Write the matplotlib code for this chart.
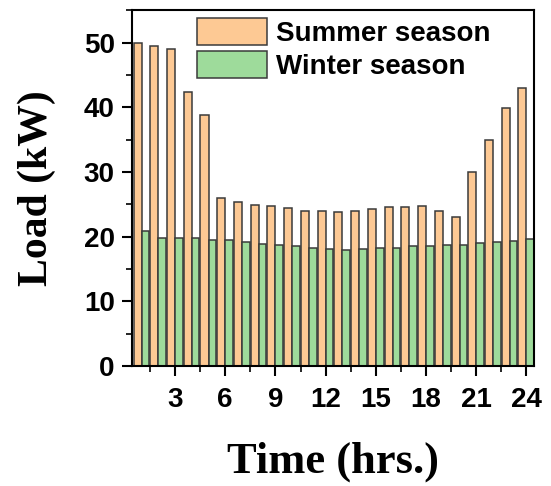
import matplotlib
matplotlib.use('Agg')
import matplotlib.pyplot as plt
import numpy as np
from matplotlib.ticker import MultipleLocator

hours = np.arange(1, 25)
summer_load = [50.0, 49.4, 49.0, 42.3, 38.8, 26.0, 25.4, 24.9, 24.8, 24.4,
               24.0, 24.0, 23.8, 24.0, 24.2, 24.5, 24.6, 24.8, 24.0, 23.0,
               30.0, 35.0, 39.9, 42.9]
winter_load = [20.8, 19.8, 19.8, 19.8, 19.5, 19.4, 19.2, 18.9, 18.7, 18.5,
               18.3, 18.1, 17.9, 18.1, 18.3, 18.3, 18.5, 18.5, 18.7, 18.7,
               19.0, 19.1, 19.3, 19.6]
x_ticks = [3, 6, 9, 12, 15, 18, 21, 24]

SUMMER_COLOR = '#fdc994'
WINTER_COLOR = '#9edb9b'
EDGE = '#3a3a3a'

fig = plt.figure(figsize=(5.51, 4.86), dpi=100)
ax = fig.add_axes([0.2396, 0.247, 0.7296, 0.732])

ax.bar(hours, summer_load, width=-0.48, align='edge', color=SUMMER_COLOR,
       edgecolor=EDGE, linewidth=1.1, label='Summer season')
ax.bar(hours, winter_load, width=0.46, align='edge', color=WINTER_COLOR,
       edgecolor=EDGE, linewidth=1.1, label='Winter season')

ax.set_xlim(0.43, 24.45)
ax.set_ylim(0, 55)
ax.set_xticks(x_ticks)
ax.xaxis.set_minor_locator(MultipleLocator(1.5))
ax.yaxis.set_major_locator(MultipleLocator(10))
ax.yaxis.set_minor_locator(MultipleLocator(5))
ax.tick_params(which='major', direction='out', length=7.5, width=1.5,
               labelsize=20)
ax.tick_params(axis='y', which='major', pad=5)
ax.tick_params(axis='x', which='major', pad=8)
ax.tick_params(which='minor', direction='out', length=4.5, width=1.2)
for lbl in ax.get_xticklabels() + ax.get_yticklabels():
    lbl.set_fontfamily('Liberation Sans')
    lbl.set_fontweight('bold')
for s in ax.spines.values():
    s.set_linewidth(1.5)

ax.set_xlabel('Time (hrs.)', fontfamily='Liberation Serif',
              fontweight='bold', fontsize=32, labelpad=20)
ax.set_ylabel('Load (kW)', fontfamily='Liberation Serif',
              fontweight='bold', fontsize=30, labelpad=20)

leg = ax.legend(loc='upper left', bbox_to_anchor=(0.162, 0.978),
                frameon=False, borderpad=0, borderaxespad=0,
                handlelength=2.5, handleheight=1.1, labelspacing=0.15,
                handletextpad=0.34,
                prop={'family': 'Liberation Sans', 'weight': 'bold',
                      'size': 20})

fig.savefig('out.png', dpi=100)
